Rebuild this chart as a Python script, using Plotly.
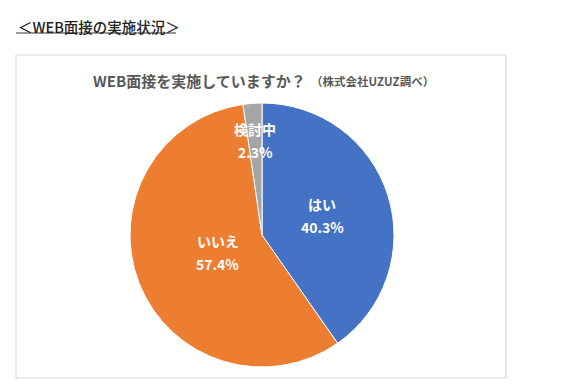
import math
import plotly.graph_objects as go

# ---- data ----
labels = ["はい", "いいえ", "検討中"]
values = [40.3, 57.4, 2.3]
colors = ["#4472C4", "#ED7D31", "#A5A5A5"]
label_radius = [0.48, 0.36, 0.72]   # label distance as fraction of pie radius

heading = "＜WEB面接の実施状況＞"
chart_title = "WEB面接を実施していますか？"
chart_sub = "（株式会社UZUZ調べ）"

W, H = 578, 385
OFF = 8  # page body margin offset
FONT = "Noto Sans CJK JP"

# pie geometry (pixels in the screenshot)
cx, cy, r = 262, 235, 132

def px(x, y):
    return (x - OFF) / W, 1 - (y - OFF) / H

x0, y1 = px(cx - r, cy - r)
x1, y0 = px(cx + r, cy + r)
fig = go.Figure(go.Pie(
    labels=labels, values=values, sort=False, direction="clockwise", rotation=0,
    marker=dict(colors=colors, line=dict(color="white", width=1)),
    textinfo="none", hoverinfo="label+percent", showlegend=False,
    domain=dict(x=[x0, x1], y=[y0, y1]),
))

ann = []
# data labels positioned at each slice's mid-angle
total = sum(values)
cum = 0
for lab, v, f in zip(labels, values, label_radius):
    mid = (cum + v / 2) / total * 2 * math.pi
    cum += v
    lx = cx + f * r * math.sin(mid)
    ly = cy - f * r * math.cos(mid)
    for txt, dy in ((lab, -11.5), (f"{v:.1f}%", 11.5)):
        x, y = px(lx, ly + dy)
        ann.append(dict(x=x, y=y, xref="paper", yref="paper", text=f"<b>{txt}</b>",
                        showarrow=False, xanchor="center", yanchor="middle",
                        font=dict(family=FONT, size=14, color="white")))

# heading
x, y = px(16, 26)
ann.append(dict(x=x, y=y, xref="paper", yref="paper", text=heading, showarrow=False,
                xanchor="left", yanchor="middle",
                font=dict(family=FONT, size=14.5, color="#222222", weight=500)))
# chart title
x, y = px(308, 80)
ann.append(dict(x=x, y=y, xref="paper", yref="paper", text=f"<b>{chart_title}</b>",
                showarrow=False, xanchor="right", yanchor="middle",
                font=dict(family=FONT, size=15, color="#595959")))
x, y = px(309, 81)
ann.append(dict(x=x, y=y, xref="paper", yref="paper", text=f"<b>{chart_sub}</b>",
                showarrow=False, xanchor="left", yanchor="middle",
                font=dict(family=FONT, size=11.5, color="#595959")))

fx0, fy1 = px(16, 55)
fx1, fy0 = px(506, 378)
ux0, uy = px(16, 33)
ux1, _ = px(176, 33)
shapes = [
    dict(type="rect", xref="paper", yref="paper",
         x0=fx0, x1=fx1, y0=fy0, y1=fy1,
         line=dict(color="#D9D9D9", width=1.2), fillcolor="rgba(0,0,0,0)", layer="below"),
    dict(type="line", xref="paper", yref="paper",
         x0=ux0, x1=ux1, y0=uy, y1=uy,
         line=dict(color="#333333", width=1)),
]

fig.update_layout(
    width=W, height=H, margin=dict(l=0, r=0, t=0, b=0),
    paper_bgcolor="white", plot_bgcolor="white",
    annotations=ann, shapes=shapes,
)

fig.write_html("out.html")
